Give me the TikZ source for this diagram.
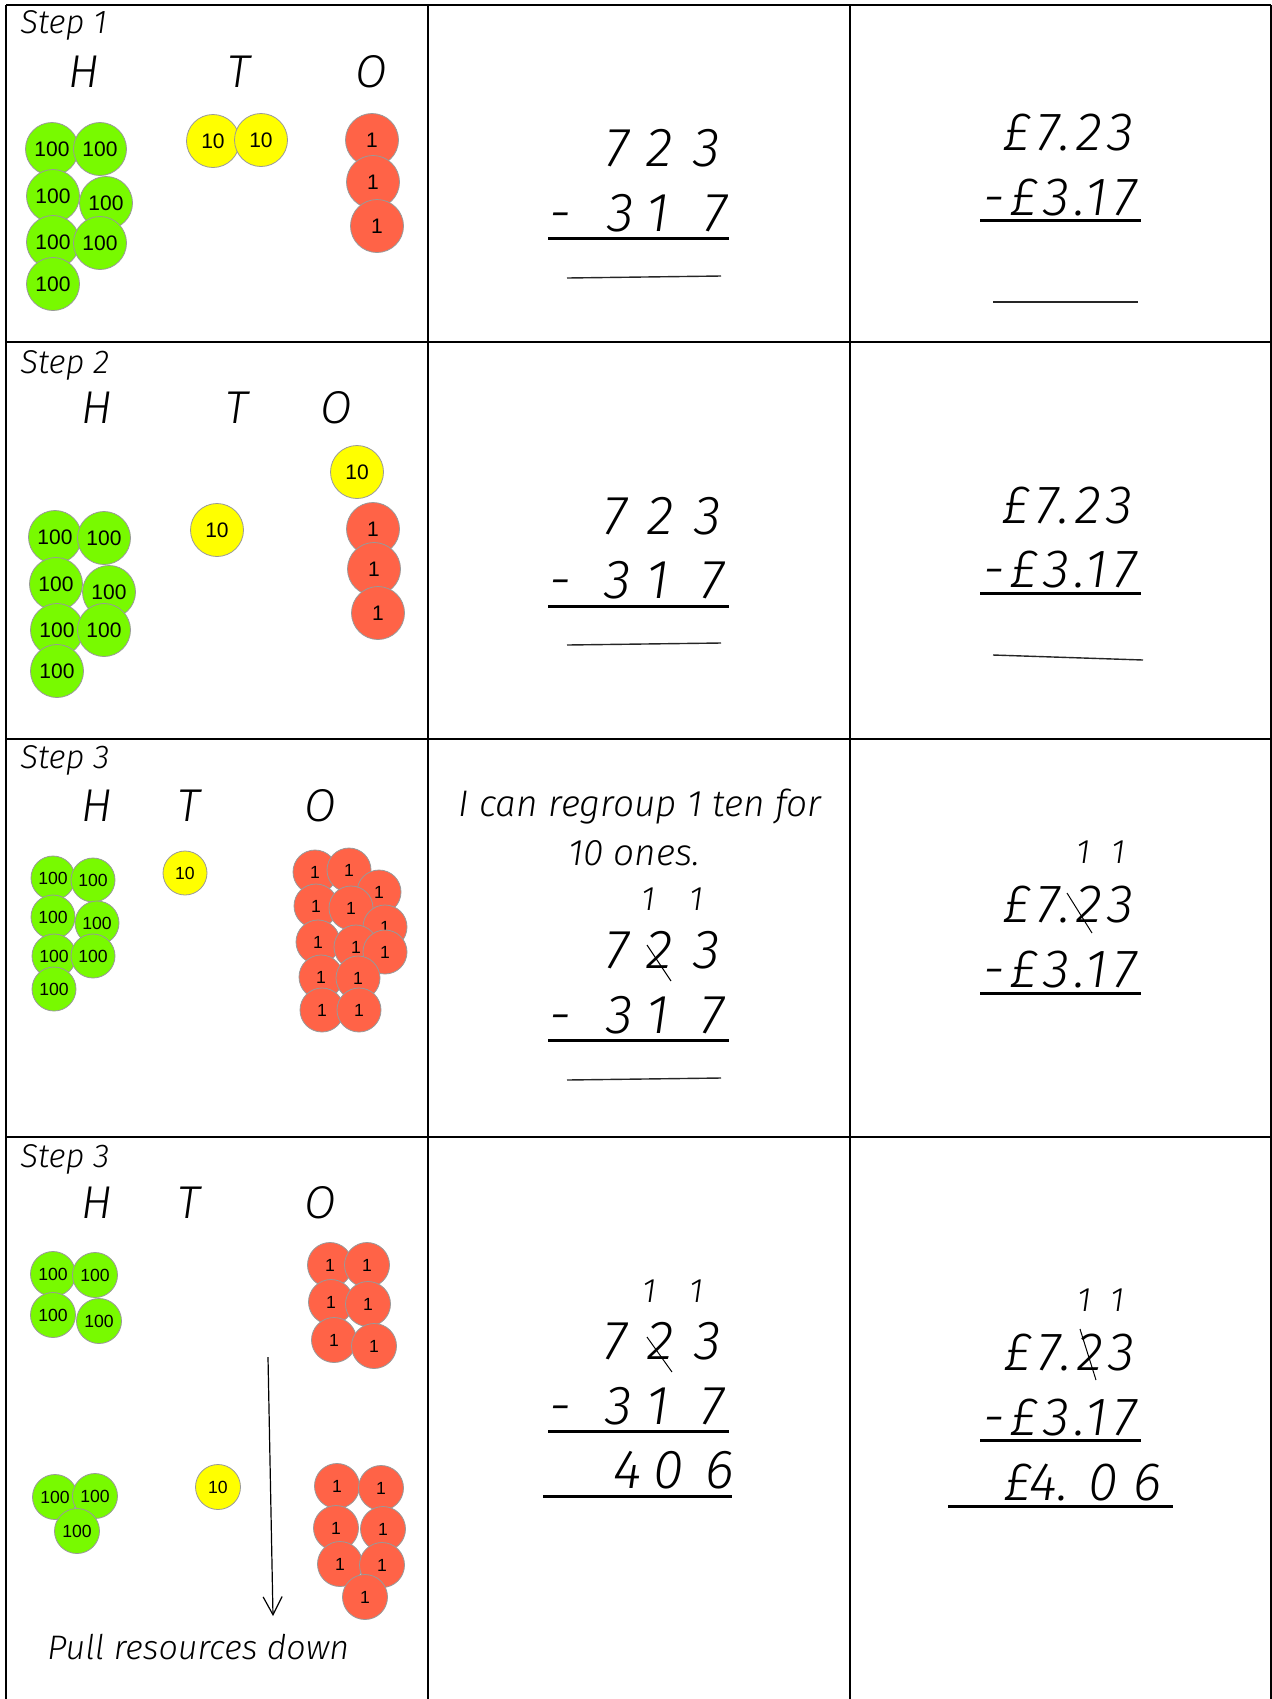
\documentclass[tikz,border=0pt]{standalone}
\usepackage{fontspec}
\setsansfont{Liberation Sans}
\newfontfamily\hand{Fira Sans Light Italic}
\newfontfamily\handwide{Fira Sans Light Italic}[LetterSpace=10]
\usetikzlibrary{arrows.meta, positioning}

\definecolor{hundredgreen}{RGB}{120,250,0}
\definecolor{tenyellow}{RGB}{255,255,0}
\definecolor{onered}{RGB}{255,99,71}

\begin{document}
\begin{tikzpicture}[
    x=0.5pt, y=-0.5pt,
    cellline/.style={line width=1pt, black},
    steplabel/.style={anchor=base west, inner sep=0pt, font=\hand\fontsize{16.5}{18}\selectfont},
    colhead/.style={anchor=base, inner sep=0pt, font=\hand\fontsize{23}{26}\selectfont},
    digit/.style={anchor=base, inner sep=0pt, font=\hand\fontsize{27.5}{30}\selectfont},
    carry/.style={anchor=base, inner sep=0pt, font=\hand\fontsize{17}{19}\selectfont},
    money/.style={anchor=base west, inner sep=0pt, font=\handwide\fontsize{27}{30}\selectfont},
    note/.style={anchor=base, inner sep=0pt, font=\hand\fontsize{18.5}{21}\selectfont},
    counter/.style={circle, draw=black!40, line width=0.4pt, inner sep=0pt},
    bigcounter/.style={counter, minimum size=26.5pt, font=\sffamily\fontsize{10.5}{12}\selectfont},
    smallcounter/.style={counter, minimum size=22pt, font=\sffamily\fontsize{8.8}{10}\selectfont},
    hundred/.style={fill=hundredgreen},
    ten/.style={fill=tenyellow},
    one/.style={fill=onered},
    sumline/.style={line width=1.5pt},
    answerline/.style={line width=0.7pt, black!85},
    strike/.style={line width=0.5pt}
]
\useasboundingbox (0,0) rectangle (1272,1699);

% table
\foreach \y in {5,342,739,1137}
    \draw[cellline] (6,\y) -- (1271,\y);
\foreach \x in {6,428,850,1271}
    \draw[cellline] (\x,5) -- (\x,1699);

% ---- step 1 ----
\node[steplabel] (stepA) at (20,33) {Step 1};
\node[colhead] (hA) at (84,87) {H};
\node[colhead] (tA) at (239,87) {T};
\node[colhead] (oA) at (371,87) {O};
\foreach \x/\y [count=\i] in {52/149, 100/149, 53/196, 106/203, 53/242, 100/243, 53/284}
    \node[bigcounter, hundred] (hundA\i) at (\x,\y) {100};
\foreach \x/\y [count=\i] in {213/141, 261/140}
    \node[bigcounter, ten] (tenA\i) at (\x,\y) {10};
\foreach \x/\y [count=\i] in {372/140, 373/182, 377/226}
    \node[bigcounter, one] (oneA\i) at (\x,\y) {1};

\foreach \d/\x [count=\i] in {7/617, 2/660, 3/707}
    \node[digit] (topA\i) at (\x,166) {\d};
\foreach \d/\x [count=\i] in {-/560, 3/621, 1/658, 7/715}
    \node[digit] (subA\i) at (\x,231) {\d};
\draw[sumline] (548,238) -- (729,238);
\draw[answerline] (567,278) -- (721,276);

\node[money] (poundA) at (1003,150) {£7.23};
\node[money] (poundSubA) at (983,215) {-£3.17};
\draw[sumline] (980,220) -- (1141,220);
\draw[answerline] (993,302) -- (1138,302);

% ---- step 2 ----
\node[steplabel] (stepB) at (20,373) {Step 2};
\node[colhead] (hB) at (97,423) {H};
\node[colhead] (tB) at (237,423) {T};
\node[colhead] (oB) at (336,423) {O};
\foreach \x/\y [count=\i] in {55/537, 104/538, 56/584, 109/592, 57/630, 104/630, 57/671}
    \node[bigcounter, hundred] (hundB\i) at (\x,\y) {100};
\node[bigcounter, ten] (tenB1) at (217,530) {10};
\node[bigcounter, ten] (tenB2) at (357,472) {10};
\foreach \x/\y [count=\i] in {373/529, 374/569, 378/613}
    \node[bigcounter, one] (oneB\i) at (\x,\y) {1};

\foreach \d/\x [count=\i] in {7/615, 2/661, 3/708}
    \node[digit] (topB\i) at (\x,534) {\d};
\foreach \d/\x [count=\i] in {-/560, 3/618, 1/658, 7/712}
    \node[digit] (subB\i) at (\x,598) {\d};
\draw[sumline] (548,606) -- (729,606);
\draw[answerline] (567,645) -- (721,643);

\node[money] (poundB) at (1002,523) {£7.23};
\node[money] (poundSubB) at (983,587) {-£3.17};
\draw[sumline] (980,593) -- (1141,593);
\draw[answerline] (993,655) -- (1143,660);

% ---- step 3 ----
\node[steplabel] (stepC) at (20,768) {Step 3};
\node[colhead] (hC) at (97,821) {H};
\node[colhead] (tC) at (189,821) {T};
\node[colhead] (oC) at (320,821) {O};
\foreach \x/\y [count=\i] in {53/878, 93/880, 53/917, 97/923, 54/956, 93/956, 54/989}
    \node[smallcounter, hundred] (hundC\i) at (\x,\y) {100};
\node[smallcounter, ten] (tenC1) at (185,873) {10};
\foreach \x/\y [count=\i] in {315/872, 349/870, 379/892, 316/906, 351/908, 385/927, 318/942,
                              356/947, 385/952, 321/977, 358/978, 322/1010, 359/1010}
    \node[smallcounter, one] (oneC\i) at (\x,\y) {1};

\node[note] (regroupA) at (640,816) {I can regroup 1 ten for};
\node[note] (regroupB) at (634,865) {10 ones.};
\node[carry] (carryC1) at (648,910) {1};
\node[carry] (carryC2) at (696,910) {1};
\foreach \d/\x [count=\i] in {7/617, 2/660, 3/707}
    \node[digit] (topC\i) at (\x,968) {\d};
\draw[strike] (647,945) -- (671,981);
\foreach \d/\x [count=\i] in {-/560, 3/620, 1/658, 7/712}
    \node[digit] (subC\i) at (\x,1033) {\d};
\draw[sumline] (548,1040) -- (729,1040);
\draw[answerline] (567,1080) -- (721,1078);

\node[carry] (carryC3) at (1083,863) {1};
\node[carry] (carryC4) at (1118,863) {1};
\node[money] (poundC) at (1003,922) {£7.23};
\draw[strike] (1067,893) -- (1092,933);
\node[money] (poundSubC) at (983,987) {-£3.17};
\draw[sumline] (980,993) -- (1141,993);

% ---- step 3, resources pulled down ----
\node[steplabel] (stepD) at (20,1167) {Step 3};
\node[colhead] (hD) at (97,1218) {H};
\node[colhead] (tD) at (189,1218) {T};
\node[colhead] (oD) at (320,1218) {O};
\foreach \x/\y [count=\i] in {53/1274, 95/1275, 53/1315, 99/1321}
    \node[smallcounter, hundred, minimum size=22.5pt] (hundD\i) at (\x,\y) {100};
\foreach \x/\y [count=\i] in {330/1265, 367/1265, 331/1302, 368/1304, 334/1340, 374/1346}
    \node[smallcounter, one, minimum size=22.5pt] (oneD\i) at (\x,\y) {1};
\foreach \x/\y [count=\i] in {55/1497, 95/1496, 77/1531}
    \node[smallcounter, hundred, minimum size=22.5pt] (hundE\i) at (\x,\y) {100};
\node[smallcounter, ten, minimum size=22.5pt] (tenE1) at (218,1487) {10};
\foreach \x/\y [count=\i] in {337/1486, 381/1488, 336/1528, 383/1529, 340/1564, 382/1565, 365/1597}
    \node[smallcounter, one, minimum size=22.5pt] (oneE\i) at (\x,\y) {1};

\coordinate (pullTop) at (268,1357);
\coordinate (pullEnd) at (273,1616);
\draw[line width=0.6pt, -{Straight Barb[length=9pt, width=9.5pt]}] (pullTop) -- (pullEnd);
\node[steplabel, font=\hand\fontsize{17}{19}\selectfont] (pullNote) at (47,1659) {Pull resources down};

\node[carry] (carryD1) at (649,1302) {1};
\node[carry] (carryD2) at (696,1302) {1};
\foreach \d/\x [count=\i] in {7/615, 2/661, 3/708}
    \node[digit] (topD\i) at (\x,1359) {\d};
\draw[strike] (647,1337) -- (672,1372);
\foreach \d/\x [count=\i] in {-/560, 3/619, 1/658, 7/712}
    \node[digit] (subD\i) at (\x,1424) {\d};
\draw[sumline] (548,1431) -- (729,1431);
\foreach \d/\x [count=\i] in {4/628, 0/669, 6/720}
    \node[digit] (ansD\i) at (\x,1488) {\d};
\draw[sumline] (543,1496) -- (732,1496);

\node[carry] (carryD3) at (1084,1311) {1};
\node[carry] (carryD4) at (1117,1311) {1};
\node[money] (poundD) at (1004,1370) {£7.23};
\draw[strike] (1080,1329) -- (1096,1380);
\node[money] (poundSubD) at (983,1435) {-£3.17};
\draw[sumline] (980,1440) -- (1141,1440);
\node[money, font=\hand\fontsize{27}{30}\selectfont] (poundAnsD) at (1004,1500) {£4. 0 6};
\draw[sumline] (948,1506) -- (1173,1506);

\end{tikzpicture}
\end{document}
